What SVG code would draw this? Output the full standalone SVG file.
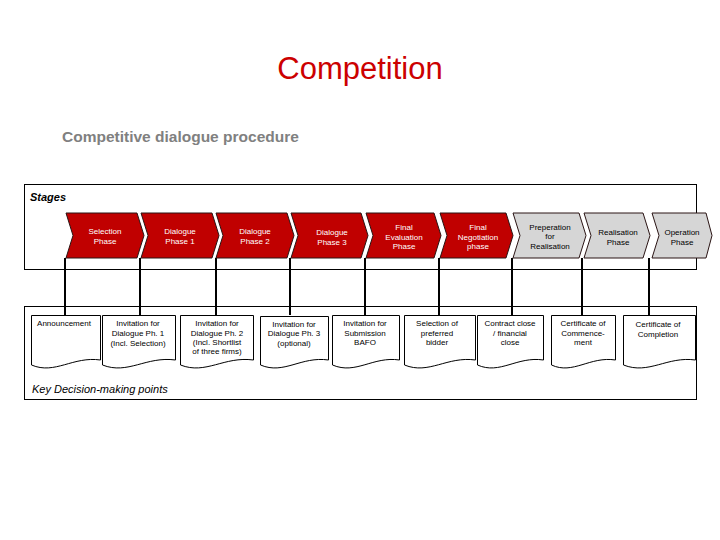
<svg xmlns="http://www.w3.org/2000/svg" width="720" height="540" viewBox="0 0 720 540">
<style>
.t{font-family:"Liberation Sans",Arial,sans-serif;font-size:8px;text-anchor:middle}
.w{fill:#ffffff}
.k{fill:#000000}
.red{fill:#c00000;stroke:#2a1414;stroke-width:1}
.gray{fill:#d6d6d6;stroke:#2a1414;stroke-width:1}
.doc{fill:#ffffff;stroke:#000000;stroke-width:1}
.box{fill:none;stroke:#000000;stroke-width:1}
.con{stroke:#000000;stroke-width:2;fill:none}
</style>
<rect width="720" height="540" fill="#ffffff"/>
<text x="360" y="79" font-family="Liberation Sans,Arial,sans-serif" font-size="31" fill="#cc0000" text-anchor="middle">Competition</text>
<text x="62" y="142" font-family="Liberation Sans,Arial,sans-serif" font-size="15.5" font-weight="bold" fill="#808080">Competitive dialogue procedure</text>
<rect class="box" x="24.5" y="184.5" width="672" height="85"/>
<rect class="box" x="24.5" y="306.5" width="672" height="93"/>
<text x="30" y="201" font-family="Liberation Sans,Arial,sans-serif" font-size="11" font-weight="bold" font-style="italic" fill="#000">Stages</text>
<text x="32" y="393" font-family="Liberation Sans,Arial,sans-serif" font-size="11" font-style="italic" fill="#000">Key Decision-making points</text>
<g id="connectors">
<line class="con" x1="65" y1="258" x2="65" y2="315"/>
<line class="con" x1="140" y1="258" x2="140" y2="315"/>
<line class="con" x1="216" y1="258" x2="216" y2="315"/>
<line class="con" x1="290" y1="258" x2="290" y2="315"/>
<line class="con" x1="365" y1="258" x2="365" y2="315"/>
<line class="con" x1="439" y1="258" x2="439" y2="315"/>
<line class="con" x1="512" y1="258" x2="512" y2="315"/>
<line class="con" x1="582" y1="258" x2="582" y2="315"/>
<line class="con" x1="649" y1="258" x2="649" y2="315"/>
</g>
<g id="stage1"><polygon class="red" points="66,213 137,213 144,235.5 137,258 66,258 73,235.5"/><text class="t w" x="105" y="234">Selection</text><text class="t w" x="105" y="244">Phase</text></g>
<g id="stage2"><polygon class="red" points="141,213 212,213 219,235.5 212,258 141,258 148,235.5"/><text class="t w" x="180" y="234">Dialogue</text><text class="t w" x="180" y="244">Phase 1</text></g>
<g id="stage3"><polygon class="red" points="216,213 287,213 294,235.5 287,258 216,258 223,235.5"/><text class="t w" x="255" y="234">Dialogue</text><text class="t w" x="255" y="244">Phase 2</text></g>
<g id="stage4"><polygon class="red" points="291,213 361,213 368,235.5 361,258 291,258 298,235.5"/><text class="t w" x="332" y="235">Dialogue</text><text class="t w" x="332" y="245">Phase 3</text></g>
<g id="stage5"><polygon class="red" points="366,213 434,213 441,235.5 434,258 366,258 373,235.5"/><text class="t w" x="404" y="230">Final</text><text class="t w" x="404" y="240">Evaluation</text><text class="t w" x="404" y="249">Phase</text></g>
<g id="stage6"><polygon class="red" points="440,213 506,213 513,235.5 506,258 440,258 447,235.5"/><text class="t w" x="478" y="230">Final</text><text class="t w" x="478" y="240">Negotiation</text><text class="t w" x="478" y="249">phase</text></g>
<g id="stage7"><polygon class="gray" points="513,213 579,213 586,235.5 579,258 513,258 520,235.5"/><text class="t k" x="550" y="230">Preperation</text><text class="t k" x="550" y="239">for</text><text class="t k" x="550" y="249">Realisation</text></g>
<g id="stage8"><polygon class="gray" points="584,213 643,213 650,235.5 643,258 584,258 591,235.5"/><text class="t k" x="618" y="235">Realisation</text><text class="t k" x="618" y="245">Phase</text></g>
<g id="stage9"><polygon class="gray" points="652,213 706,213 712,235.5 706,258 652,258 659,235.5"/><text class="t k" x="682" y="235">Operation</text><text class="t k" x="682" y="245">Phase</text></g>
<g id="doc1"><path class="doc" d="M31.5,315.5 H100.5 V360 C73,356 55,375 31.5,365 Z"/><text class="t k" x="64" y="326">Announcement</text></g>
<g id="doc2"><path class="doc" d="M102.5,315.5 H175.5 V360 C146,356 128,375 102.5,365 Z"/><text class="t k" x="138" y="326">Invitation for</text><text class="t k" x="138" y="336">Dialogue Ph. 1</text><text class="t k" x="138" y="346">(Incl. Selection)</text></g>
<g id="doc3"><path class="doc" d="M180.5,315.5 H253.5 V360 C224,356 206,375 180.5,365 Z"/><text class="t k" x="217" y="326">Invitation for</text><text class="t k" x="217" y="336">Dialogue Ph. 2</text><text class="t k" x="217" y="345">(Incl. Shortlist</text><text class="t k" x="217" y="354">of three firms)</text></g>
<g id="doc4"><path class="doc" d="M260.5,316.5 H328.5 V360 C301,356 284,375 260.5,365 Z"/><text class="t k" x="294" y="327">Invitation for</text><text class="t k" x="294" y="336">Dialogue Ph. 3</text><text class="t k" x="294" y="346">(optional)</text></g>
<g id="doc5"><path class="doc" d="M332.5,315.5 H399.5 V360 C373,356 356,375 332.5,365 Z"/><text class="t k" x="365" y="326">Invitation for</text><text class="t k" x="365" y="336">Submission</text><text class="t k" x="365" y="345">BAFO</text></g>
<g id="doc6"><path class="doc" d="M404.5,315.5 H475.5 V360 C447,356 429,375 404.5,365 Z"/><text class="t k" x="437" y="326">Selection of</text><text class="t k" x="437" y="336">preferred</text><text class="t k" x="437" y="345">bidder</text></g>
<g id="doc7"><path class="doc" d="M477.5,315.5 H543.5 V360 C517,356 500,375 477.5,365 Z"/><text class="t k" x="510" y="326">Contract close</text><text class="t k" x="510" y="336">/ financial</text><text class="t k" x="510" y="345">close</text></g>
<g id="doc8"><path class="doc" d="M551.5,315.5 H615.5 V360 C590,356 573,375 551.5,365 Z"/><text class="t k" x="583" y="326">Certificate of</text><text class="t k" x="583" y="336">Commence-</text><text class="t k" x="583" y="345">ment</text></g>
<g id="doc9"><path class="doc" d="M623.5,315.5 H695.5 V360 C667,356 649,375 623.5,365 Z"/><text class="t k" x="658" y="327">Certificate of</text><text class="t k" x="658" y="337">Completion</text></g>
</svg>
